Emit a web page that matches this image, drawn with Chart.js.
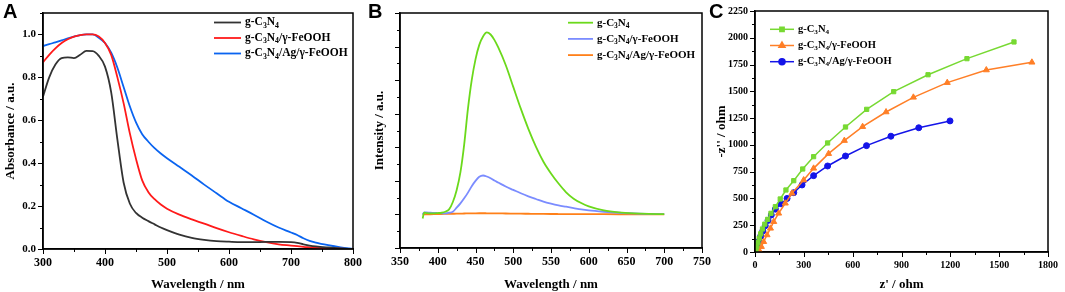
<!DOCTYPE html>
<html>
<head>
<meta charset="utf-8">
<script src="https://cdn.jsdelivr.net/npm/chart.js@4.4.0/dist/chart.umd.min.js"></script>
<style>
  body { margin: 0; background: #fff; width: 1065px; height: 292px; overflow: hidden; position: relative; }
  .panel { position: absolute; top: 0; height: 292px; }
  .letter { position: absolute; top: 1px; font: bold 20px "Liberation Sans", Arial, sans-serif; line-height: 1; color: #000; }
</style>
</head>
<body>
<div class="panel" style="left:0;width:370px"><canvas id="chartA"></canvas></div>
<div class="panel" style="left:355px;width:370px"><canvas id="chartB"></canvas></div>
<div class="panel" style="left:710px;width:355px"><canvas id="chartC"></canvas></div>
<div class="letter" style="left:3px">A</div>
<div class="letter" style="left:368px">B</div>
<div class="letter" style="left:709px">C</div>
<script>
// labels, "_3" means subscript 3
const seriesLabels = ["g-C_3N_4", "g-C_3N_4/γ-FeOOH", "g-C_3N_4/Ag/γ-FeOOH"];

// A: UV-vis absorbance
const uvWavelength = [300, 310, 320, 330, 340, 350, 360, 370, 380, 390, 400, 410, 420, 430, 440, 450, 460, 470, 480, 490,
  500, 520, 540, 560, 580, 600, 620, 640, 660, 680, 700, 710, 720, 730, 740, 760, 780, 800];
const uvGC3N4 = [0.71, 0.80, 0.86, 0.89, 0.893, 0.89, 0.905, 0.923, 0.922, 0.90, 0.85, 0.73, 0.51, 0.31, 0.212, 0.168, 0.146, 0.13, 0.115, 0.10,
  0.088, 0.067, 0.052, 0.043, 0.037, 0.034, 0.032, 0.032, 0.033, 0.033, 0.032, 0.029, 0.022, 0.016, 0.012, 0.007, 0.003, 0.0];
const uvFeOOH = [0.87, 0.905, 0.935, 0.96, 0.978, 0.99, 0.997, 1.0, 1.0, 0.99, 0.96, 0.905, 0.80, 0.68, 0.54, 0.42, 0.32, 0.265, 0.232, 0.207,
  0.188, 0.16, 0.138, 0.118, 0.097, 0.078, 0.061, 0.045, 0.032, 0.022, 0.016, 0.013, 0.01, 0.008, 0.006, 0.004, 0.002, 0.0];
const uvAgFeOOH = [0.946, 0.955, 0.963, 0.972, 0.982, 0.99, 0.997, 1.0, 1.0, 0.985, 0.96, 0.915, 0.845, 0.755, 0.665, 0.59, 0.535, 0.50, 0.47, 0.445,
  0.423, 0.383, 0.343, 0.30, 0.26, 0.22, 0.19, 0.16, 0.128, 0.10, 0.077, 0.065, 0.05, 0.038, 0.03, 0.018, 0.008, 0.0];

// B: photoluminescence
const plWavelength = [380, 382, 385, 390, 395, 400, 405, 410, 415, 420, 425, 430, 435, 440, 445, 450, 455, 460, 465, 470,
  475, 480, 490, 500, 510, 520, 530, 540, 550, 560, 570, 580, 590, 600, 620, 640, 660, 680, 700];
const plGC3N4 = [-0.12, 0.05, 0.04, 0.03, 0.03, 0.04, 0.05, 0.08, 0.15, 0.37, 0.72, 1.25, 2.08, 3.15, 4.0, 4.62, 5.05, 5.3, 5.42, 5.36,
  5.2, 4.98, 4.45, 3.8, 3.15, 2.55, 2.02, 1.57, 1.22, 0.92, 0.66, 0.47, 0.34, 0.24, 0.12, 0.06, 0.03, 0.015, 0.01];
const plFeOOH = [0.0, 0.06, 0.06, 0.05, 0.045, 0.04, 0.035, 0.03, 0.05, 0.08, 0.2, 0.33, 0.48, 0.65, 0.84, 1.0, 1.12, 1.16, 1.13, 1.08,
  1.01, 0.95, 0.83, 0.73, 0.63, 0.54, 0.46, 0.38, 0.32, 0.27, 0.23, 0.19, 0.15, 0.12, 0.08, 0.05, 0.03, 0.015, 0.01];
const plAgFeOOH = [0.0, 0.0, 0.0, 0.005, 0.008, 0.01, 0.012, 0.015, 0.018, 0.02, 0.022, 0.025, 0.027, 0.03, 0.032, 0.034, 0.035, 0.035, 0.034, 0.033,
  0.032, 0.03, 0.028, 0.025, 0.022, 0.02, 0.018, 0.015, 0.013, 0.012, 0.011, 0.01, 0.009, 0.008, 0.007, 0.006, 0.005, 0.004, 0.003];

// C: Nyquist plot (z', -z'')
const eisReGC3N4 = [6, 11, 18, 26, 35, 46, 60, 78, 98, 125, 155, 190, 238, 293, 360, 446, 556, 686, 852, 1063, 1302, 1591];
const eisImGC3N4 = [15, 50, 88, 128, 170, 215, 260, 305, 361, 423, 495, 579, 666, 775, 890, 1018, 1167, 1332, 1497, 1655, 1805, 1961];
const eisReFeOOH = [27, 39, 53, 74, 95, 115, 145, 186, 227, 299, 360, 452, 549, 661, 805, 973, 1181, 1421, 1701];
const eisImFeOOH = [12, 50, 96, 159, 221, 283, 361, 455, 548, 672, 781, 918, 1040, 1170, 1307, 1444, 1581, 1699, 1771];
const eisReAgFeOOH = [6, 14, 24, 35, 48, 63, 80, 100, 125, 160, 197, 238, 289, 360, 446, 556, 685, 835, 1006, 1198];
const eisImAgFeOOH = [15, 55, 100, 148, 196, 245, 295, 345, 400, 450, 500, 554, 626, 713, 803, 896, 993, 1081, 1160, 1224];

const serif = '"Liberation Serif", "Times New Roman", serif';

function pts(xs, ys) {
  return xs.map((x, i) => ({ x: x, y: ys[i] }));
}

function isMultiple(v, step) {
  const k = v / step;
  return Math.abs(k - Math.round(k)) < 1e-6;
}

function labelEvery(step, digits) {
  return (v) => (isMultiple(v, step) ? Number(v).toFixed(digits) : "");
}

// draws text with "_n" as subscript
function drawRich(ctx, str, x, y, size) {
  const parts = str.split(/_(\d)/);
  parts.forEach((p, i) => {
    if (!p) return;
    const sub = i % 2 === 1;
    ctx.font = "bold " + (sub ? size * 0.68 : size) + "px " + serif;
    ctx.fillText(p, x, sub ? y + size * 0.28 : y);
    x += ctx.measureText(p).width;
  });
}

const tickMarks = {
  id: "tickMarks",
  afterDraw(chart, args, opts) {
    const ctx = chart.ctx;
    ctx.save();
    ctx.strokeStyle = "#000";
    ctx.lineWidth = 1;
    Object.values(chart.scales).forEach((s) => {
      const step = opts[s.id];
      s.ticks.forEach((t) => {
        const len = isMultiple(t.value, step) ? 5 : 3;
        const p = Math.round(s.getPixelForValue(t.value)) + 0.5;
        ctx.beginPath();
        if (s.isHorizontal()) {
          ctx.moveTo(p, s.top);
          ctx.lineTo(p, s.top + len);
        } else {
          ctx.moveTo(s.right, p);
          ctx.lineTo(s.right - len, p);
        }
        ctx.stroke();
      });
    });
    ctx.restore();
  },
};

const frame = {
  id: "frame",
  afterDraw(chart) {
    const a = chart.chartArea;
    const ctx = chart.ctx;
    ctx.save();
    ctx.strokeStyle = "#000";
    ctx.lineWidth = 1.5;
    ctx.strokeRect(a.left, a.top, a.right - a.left, a.bottom - a.top);
    ctx.restore();
  },
};

const richLegend = {
  id: "richLegend",
  afterDraw(chart, args, o) {
    const ctx = chart.ctx;
    ctx.save();
    chart.data.datasets.forEach((ds, i) => {
      const y = o.y + i * o.dy;
      ctx.strokeStyle = ds.borderColor;
      ctx.fillStyle = ds.borderColor;
      ctx.lineWidth = ds.borderWidth;
      ctx.beginPath();
      ctx.moveTo(o.x, y);
      ctx.lineTo(o.x + o.len, y);
      ctx.stroke();
      if (ds.pointRadius > 0) {
        Chart.helpers.drawPoint(ctx, { pointStyle: ds.pointStyle, radius: ds.pointRadius, rotation: 0, borderWidth: 1 }, o.x + o.len / 2, y);
      }
      ctx.fillStyle = "#000";
      ctx.textBaseline = "middle";
      drawRich(ctx, ds.label, o.x + o.len + 4, y, o.size);
    });
    ctx.restore();
  },
};

function axis(opts) {
  return {
    type: "linear",
    min: opts.min,
    max: opts.max,
    border: { display: true, color: "#000", width: 1.5 },
    grid: { drawOnChartArea: false, drawTicks: true, tickLength: 4, color: "rgba(0,0,0,0)" },
    title: { display: true, text: opts.title, color: "#000", padding: 0, font: { family: serif, weight: "bold", size: opts.titleSize || 13 } },
    ticks: {
      stepSize: opts.step,
      autoSkip: false,
      maxRotation: 0,
      padding: 3,
      color: "#000",
      font: { family: serif, weight: "bold", size: opts.tickSize },
      callback: opts.callback,
    },
    afterFit: opts.afterFit,
  };
}

function fitY(w) {
  return (s) => { s.width = w; s.paddingTop = 0; s.paddingBottom = 0; };
}
function fitX(h) {
  return (s) => { s.height = h; s.paddingLeft = 0; s.paddingRight = 0; };
}

function baseOptions(pad, scales, plugins) {
  return {
    responsive: true,
    maintainAspectRatio: false,
    animation: false,
    layout: { padding: pad },
    scales: scales,
    plugins: Object.assign({ legend: { display: false }, tooltip: { enabled: false } }, plugins),
  };
}

function smoothLine(label, data, color) {
  return {
    label: label,
    data: data,
    borderColor: color,
    backgroundColor: color,
    borderWidth: 1.8,
    pointRadius: 0,
    cubicInterpolationMode: "monotone",
    fill: false,
  };
}

function markerLine(label, data, color, style, r) {
  return {
    label: label,
    data: data,
    borderColor: color,
    backgroundColor: color,
    borderWidth: 1.5,
    pointStyle: style,
    pointRadius: r,
    pointBorderWidth: 1,
    tension: 0,
    fill: false,
  };
}

// Panel A
new Chart(document.getElementById("chartA"), {
  type: "line",
  data: {
    datasets: [
      smoothLine(seriesLabels[0], pts(uvWavelength, uvGC3N4), "#333333"),
      smoothLine(seriesLabels[1], pts(uvWavelength, uvFeOOH), "#ff1a1a"),
      smoothLine(seriesLabels[2], pts(uvWavelength, uvAgFeOOH), "#0a64f0"),
    ],
  },
  options: baseOptions(
    { left: 3, right: 17, top: 13, bottom: 0 },
    {
      x: axis({ min: 300, max: 800, step: 50, title: "Wavelength / nm", tickSize: 12, callback: labelEvery(100, 0), afterFit: fitX(43) }),
      y: axis({ min: 0, max: 1.1, step: 0.1, title: "Absorbance / a.u.", tickSize: 11, callback: labelEvery(0.2, 1), afterFit: fitY(40) }),
    },
    {
      tickMarks: { x: 100, y: 0.2 },
      richLegend: { x: 214, y: 22.5, dy: 15.5, len: 27, size: 11.5 },
    }
  ),
  plugins: [tickMarks, frame, richLegend],
});

// Panel B
new Chart(document.getElementById("chartB"), {
  type: "line",
  data: {
    datasets: [
      smoothLine(seriesLabels[0], pts(plWavelength, plGC3N4), "#6bd91b"),
      smoothLine(seriesLabels[1], pts(plWavelength, plFeOOH), "#7b8cff"),
      smoothLine(seriesLabels[2], pts(plWavelength, plAgFeOOH), "#ff8019"),
    ],
  },
  options: baseOptions(
    { left: 17, right: 23, top: 13, bottom: 0 },
    {
      x: axis({ min: 350, max: 750, step: 25, title: "Wavelength / nm", tickSize: 12, callback: labelEvery(50, 0), afterFit: fitX(44) }),
      y: axis({ min: -1, max: 6, step: 0.5, title: "Intensity / a.u.", tickSize: 11, callback: () => "", afterFit: fitY(28) }),
    },
    {
      tickMarks: { x: 50, y: 1 },
      richLegend: { x: 213, y: 22.7, dy: 16.2, len: 25, size: 11 },
    }
  ),
  plugins: [tickMarks, frame, richLegend],
});

// Panel C
new Chart(document.getElementById("chartC"), {
  type: "line",
  data: {
    datasets: [
      markerLine(seriesLabels[0], pts(eisReGC3N4, eisImGC3N4), "#77d932", "rect", 3),
      markerLine(seriesLabels[1], pts(eisReFeOOH, eisImFeOOH), "#ff7f27", "triangle", 3.5),
      markerLine(seriesLabels[2], pts(eisReAgFeOOH, eisImAgFeOOH), "#1414e8", "circle", 3),
    ],
  },
  options: baseOptions(
    { left: 4, right: 17, top: 11, bottom: 0 },
    {
      x: axis({ min: 0, max: 1800, step: 150, title: "z' / ohm", tickSize: 10, callback: labelEvery(300, 0), afterFit: fitX(40) }),
      y: axis({ min: 0, max: 2250, step: 125, title: "-z'' / ohm", tickSize: 10, callback: labelEvery(250, 0), afterFit: fitY(41) }),
    },
    {
      tickMarks: { x: 300, y: 250 },
      richLegend: { x: 60, y: 29.3, dy: 16.2, len: 24, size: 10.5 },
    }
  ),
  plugins: [tickMarks, frame, richLegend],
});
</script>
</body>
</html>
